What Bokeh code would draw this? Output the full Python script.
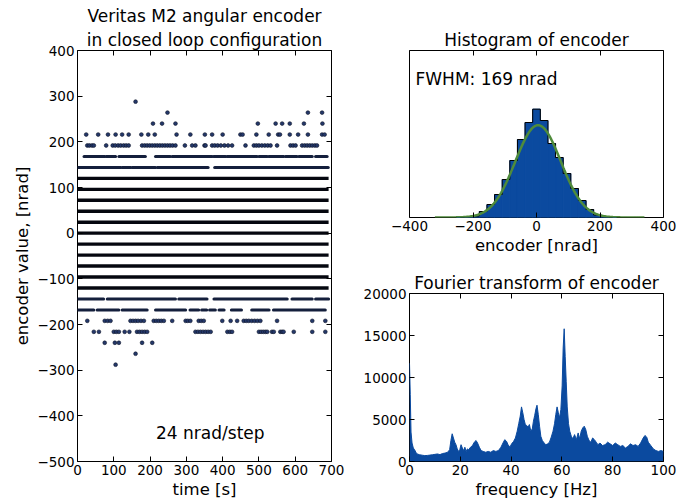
import numpy as np
from bokeh.plotting import figure
from bokeh.layouts import row, column
from bokeh.models import (Range1d, LinearAxis, FixedTicker, CustomJSTickFormatter,
                          Label, Title)
from bokeh.embed import file_html
from bokeh.resources import INLINE

FONT = "DejaVu Sans"
BLUE = "#0b4a9f"
GREEN = "#4f8b3b"

# ---------------- encoder time series (24 nrad steps) ----------------
dense_levels = [-120, -96, -72, -48, -24, 0, 24, 48, 72, 96, 120]
dense_span = [1, 692]

level_runs = {
    144: [[1, 119], [123, 147], [151, 215], [220, 360], [378, 691]],
    168: [[18, 75], [79, 105], [114, 187], [215, 256], [261, 371], [375, 408],
          [412, 495], [500, 523], [527, 568], [573, 605], [610, 647], [656, 688]],
    -144: [[1, 72], [82, 270], [279, 357], [376, 578], [591, 647], [656, 692]],
    -168: [[1, 45], [54, 114], [123, 192], [215, 298], [310, 334], [342, 356],
           [364, 380], [390, 404], [424, 452], [480, 528], [540, 683]],
}

dots_p192 = [27, 33, 40, 45, 79, 97, 104, 112, 119, 127, 134, 141, 178, 185, 192,
             199, 206, 213, 220, 227, 234, 241, 248, 255, 262, 270, 296, 316, 325,
             350, 353, 371, 378, 386, 395, 405, 415, 426, 463, 486, 493, 500, 508,
             516, 524, 532, 550, 587, 594, 601, 619, 626, 633, 640, 647, 654, 660]
dots_p216 = [24, 57, 84, 105, 123, 141, 176, 195, 213, 273, 311, 351, 371, 400,
             449, 455, 493, 527, 553, 558, 585, 608, 635, 674, 681]
dots_p240 = [208, 233, 270, 497, 546, 564, 585, 624, 675]
dots_p264 = [248, 635, 674]
dots_p288 = [160]
dots_m192 = [27, 75, 83, 91, 146, 153, 160, 167, 175, 183, 210, 217, 224, 231, 238,
             261, 298, 304, 311, 334, 341, 348, 399, 422, 440, 458, 465, 472, 480,
             488, 496, 504, 550, 647, 683]
dots_m216 = [45, 59, 100, 107, 114, 130, 143, 164, 171, 178, 185, 192, 325, 332,
             339, 346, 353, 360, 367, 413, 420, 426, 500, 506, 512, 518, 523, 536,
             541, 559, 564, 568, 596, 647, 683]
dots_m240 = [75, 103, 114, 178, 206]
dots_m264 = [160]
dots_m288 = [105]

sparse_levels = {192: dots_p192, 216: dots_p216, 240: dots_p240, 264: dots_p264,
                 288: dots_p288, -192: dots_m192, -216: dots_m216,
                 -240: dots_m240, -264: dots_m264, -288: dots_m288}

# ---------------- histogram ----------------
hist_centers = [-240, -216, -192, -168, -144, -120, -96, -72, -48, -24, 0,
                24, 48, 72, 96, 120, 144, 168, 192, 216, 240]
hist_counts = [0, 8, 15, 60, 130, 230, 380, 570, 780, 950, 1083,
               970, 740, 600, 440, 290, 170, 80, 25, 8, 0]
fit_amp = 923
fit_mean = 5
fit_fwhm = 169
fit_range = [-320, 340]

# ---------------- Fourier transform ----------------
fft_freq = [0, 0.3, 0.6, 1.0, 1.5, 2.0, 2.5, 3, 4, 5, 6, 7, 8, 9, 10, 11, 12, 13,
            14, 15, 15.8, 16.3, 16.8, 17.3, 17.8, 18.3, 18.8, 19.3, 19.8, 20.3,
            20.8, 21.3, 21.8, 22.3, 22.8, 23.3, 24, 24.8, 25.5, 26.2, 26.8, 27.5,
            28.2, 29, 30, 31, 32, 33, 34, 35, 36, 36.8, 37.5, 38.2, 38.8, 39.5,
            40.2, 41, 41.7, 42.4, 43, 43.6, 44.1, 44.6, 45.1, 45.6, 46.1, 46.7,
            47.2, 47.7, 48.3, 48.8, 49.3, 49.8, 50.2, 50.7, 51.2, 51.7, 52.3, 53,
            53.7, 54.4, 55.1, 55.8, 56.5, 57.1, 57.6, 58.1, 58.6, 59.1, 59.6, 60.1,
            60.5, 60.9, 61.3, 61.7, 62.1, 62.6, 63.1, 63.7, 64.3, 65, 65.7, 66.4,
            67, 67.6, 68.2, 68.8, 69.4, 70, 70.7, 71.4, 72.1, 72.8, 73.5, 74.2, 75,
            76, 77, 78, 79, 80, 81, 82, 83, 84, 85, 86, 87, 88, 89, 90, 91, 92,
            92.7, 93.4, 94, 95, 96, 97, 98, 99, 100]
fft_amp = [11700, 8000, 3500, 2200, 1600, 1400, 1100, 900, 800, 750, 700, 720, 760,
           800, 850, 900, 820, 950, 1000, 1100, 1400, 2500, 3300, 2800, 2300, 2000,
           1500, 1200, 1400, 2000, 1600, 1300, 1700, 1200, 1500, 1400, 1700, 1900,
           2300, 2500, 2200, 1700, 1300, 1200, 1100, 1200, 1100, 1300, 1200, 1300,
           1700, 2200, 2600, 2400, 2000, 1700, 2100, 2400, 2800, 3600, 4500, 5400,
           6500, 5800, 5000, 4400, 4300, 4100, 4400, 3700, 3800, 4800, 5500, 6300,
           6700, 5600, 4200, 3000, 2500, 2200, 2000, 2100, 2300, 2900, 3600, 4500,
           5600, 6500, 5800, 5200, 6200, 9000, 13500, 15800, 12500, 9500, 6500, 4500,
           3600, 3000, 2700, 3200, 2600, 3400, 2700, 3600, 4000, 4200, 3800, 3000,
           2500, 2300, 2800, 2600, 2300, 2000, 2200, 1900, 2000, 2300, 2100, 1900,
           2200, 2000, 1800, 1900, 1600, 1800, 2100, 1900, 2000, 1800, 2200, 2800,
           3100, 2900, 2300, 1900, 1500, 1300, 1200, 1300, 1200]

MINUS_FMT = "return (tick < 0 ? '\u2212' : '') + Math.abs(tick).toString();"


def mirror_axis(ticks):
    return LinearAxis(ticker=FixedTicker(ticks=ticks),
                      formatter=CustomJSTickFormatter(code="return '';"),
                      axis_line_color=None, major_tick_in=5, major_tick_out=0,
                      minor_tick_line_color=None, major_label_standoff=0,
                      major_label_text_font_size="1px")


def style(p, xticks, yticks, show_y=True, mirror_y=True, mirror_x=True):
    p.outline_line_color = "black"
    p.outline_line_width = 1
    p.outline_line_alpha = 1
    p.xgrid.visible = False
    p.ygrid.visible = False
    p.background_fill_color = "white"
    p.border_fill_color = "white"
    for ax in p.xaxis:
        ax.ticker = FixedTicker(ticks=xticks)
    for ax in p.yaxis:
        ax.ticker = FixedTicker(ticks=yticks)
    for ax in list(p.xaxis) + list(p.yaxis):
        ax.formatter = CustomJSTickFormatter(code=MINUS_FMT)
        ax.axis_line_color = None
        ax.major_tick_in = 5
        ax.major_tick_out = 0
        ax.minor_tick_line_color = None
        ax.major_tick_line_color = "black"
        ax.major_label_text_font = FONT
        ax.major_label_text_font_size = "13.5px"
        ax.major_label_text_color = "black"
        ax.axis_label_text_font = FONT
        ax.axis_label_text_font_size = "16.5px"
        ax.axis_label_text_font_style = "normal"
        ax.axis_label_text_color = "black"
        ax.major_label_standoff = 3
        ax.axis_label_standoff = 2
    if not show_y:
        p.yaxis.visible = False
    if mirror_y:
        p.add_layout(mirror_axis(yticks), "right")
    if mirror_x:
        p.add_layout(mirror_axis(xticks), "above")


def add_title(p, text):
    p.add_layout(Title(text=text, align="center", text_font=FONT, text_font_size="17px",
                       text_font_style="normal", text_color="black", standoff=2), "above")


# ================= left: encoder scatter =================
left = figure(width=345, height=501, output_backend="svg", toolbar_location=None,
              x_range=Range1d(0, 700), y_range=Range1d(-500, 400),
              min_border_left=77, min_border_right=14, min_border_top=50,
              min_border_bottom=40, title=None)
left.below[0].axis_label = "time [s]"
left.left[0].axis_label = "encoder value, [nrad]"
style(left, list(range(0, 701, 100)), list(range(-500, 401, 100)))
add_title(left, "in closed loop configuration")
add_title(left, "Veritas M2 angular encoder")

x0s, x1s, ys = [], [], []
for lv in dense_levels:
    x0s.append(dense_span[0]); x1s.append(dense_span[1]); ys.append(lv)
left.segment(x0=x0s, x1=x1s, y0=ys, y1=ys, line_color="#05070f", line_width=3.4)

rx0, rx1, ry = [], [], []
for lv, runs in level_runs.items():
    for a, b in runs:
        rx0.append(a); rx1.append(b); ry.append(lv)
left.segment(x0=rx0, x1=rx1, y0=ry, y1=ry, line_color="#141f3c", line_width=3.0,
             line_cap="round")

dx, dy = [], []
for lv, ts in sparse_levels.items():
    for t in ts:
        dx.append(t); dy.append(lv)
left.scatter(x=dx, y=dy, size=3.8, fill_color="#24386a", line_color="#0b1226",
             line_width=0.6)

left.add_layout(Label(x=366, y=-438, text="24 nrad/step", text_font=FONT,
                      text_font_size="17px", text_align="center",
                      text_baseline="middle", text_color="black"))

# ================= histogram =================
hist = figure(width=335, height=258, output_backend="svg", toolbar_location=None,
              x_range=Range1d(-400, 400), y_range=Range1d(0, 1670),
              min_border_left=64, min_border_right=16, min_border_top=50,
              min_border_bottom=41, title=None)
hist.below[0].axis_label = "encoder [nrad]"
style(hist, [-400, -200, 0, 200, 400], [], show_y=False, mirror_y=False)
add_title(hist, "Histogram of encoder")

half = (hist_centers[1] - hist_centers[0]) / 2
hist.quad(left=[c - half for c in hist_centers], right=[c + half for c in hist_centers],
          bottom=0, top=hist_counts, fill_color=BLUE, line_color=BLUE, line_width=1)
hist.step(x=hist_centers, y=hist_counts, mode="center", line_color="black", line_width=1)

sigma = fit_fwhm / (2 * np.sqrt(2 * np.log(2)))
gx = np.linspace(fit_range[0], fit_range[1], 200)
gy = fit_amp * np.exp(-0.5 * ((gx - fit_mean) / sigma) ** 2)
hist.line(gx, gy, line_color=GREEN, line_width=2.5)

hist.add_layout(Label(x=-381, y=1390, text="FWHM: 169 nrad", text_font=FONT,
                      text_font_size="17px", text_align="left",
                      text_baseline="middle", text_color="black"))

# ================= Fourier transform =================
fft = figure(width=335, height=243, output_backend="svg", toolbar_location=None,
             x_range=Range1d(0, 100), y_range=Range1d(0, 20000),
             min_border_left=64, min_border_right=17, min_border_top=35,
             min_border_bottom=40, title=None)
fft.below[0].axis_label = "frequency [Hz]"
style(fft, [0, 20, 40, 60, 80, 100], [0, 5000, 10000, 15000, 20000])
add_title(fft, "Fourier transform of encoder")

fft.varea(x=fft_freq, y1=0, y2=fft_amp, fill_color=BLUE)
fft.line(x=fft_freq, y=fft_amp, line_color=BLUE, line_width=1)

layout = row(left, column(hist, fft))
open("out.html", "w").write(file_html(layout, INLINE))
